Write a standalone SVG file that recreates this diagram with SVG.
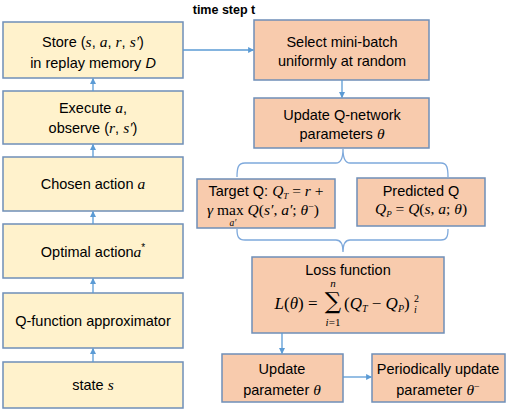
<svg xmlns="http://www.w3.org/2000/svg" width="506" height="410" viewBox="0 0 506 410">
<defs>
<marker id="ah" viewBox="0 0 10 10" refX="9" refY="5" markerWidth="6" markerHeight="6" orient="auto" markerUnits="userSpaceOnUse">
<path d="M0,0 L10,5 L0,10 z" fill="#5B9BD5"/>
</marker>
<style>
.lb{fill:#FFF2CC;stroke:#6F8FB8;stroke-width:1.5}
.rb{fill:#F8CBAD;stroke:#6F8FB8;stroke-width:1.5}
.t{font-family:"Liberation Sans",Arial,sans-serif;font-size:14.5px;fill:#000;text-anchor:middle}
.m{font-family:"Liberation Serif","Times New Roman",serif;font-style:italic;font-size:15.5px}
.mu{font-family:"Liberation Serif","Times New Roman",serif;font-style:normal;font-size:15.5px}
.c{stroke:#5B9BD5;stroke-width:1.3;fill:none}
.br{stroke:#7EA9DC;stroke-width:1.3;fill:none}
</style>
</defs>
<rect width="506" height="410" fill="#fff"/>
<text x="224" y="14" font-family="Liberation Sans,Arial,sans-serif" font-size="12.5" font-weight="bold" text-anchor="middle">time step t</text>

<g id="store">
<rect class="lb" x="3" y="22" width="180" height="56"/>
<text class="t" x="93" y="47">Store (<tspan class="m">s</tspan>, <tspan class="m">a</tspan>, <tspan class="m">r</tspan>, <tspan class="m">s′</tspan>)</text>
<text class="t" x="93" y="68">in replay memory <tspan font-style="italic">D</tspan></text>
</g>
<g id="execute">
<rect class="lb" x="3" y="91" width="180" height="53"/>
<text class="t" x="93" y="113">Execute <tspan class="m">a</tspan>,</text>
<text class="t" x="93" y="133">observe (<tspan class="m">r</tspan>, <tspan class="m">s′</tspan>)</text>
</g>
<g id="chosen">
<rect class="lb" x="3" y="157" width="180" height="54"/>
<text class="t" x="93" y="189">Chosen action <tspan class="m">a</tspan></text>
</g>
<g id="optimal">
<rect class="lb" x="3" y="224" width="180" height="54"/>
<text class="t" x="93" y="257">Optimal action<tspan class="m">a</tspan><tspan style="font-size:10px" dy="-6">*</tspan></text>
</g>
<g id="qfunc">
<rect class="lb" x="3" y="293" width="180" height="55"/>
<text class="t" x="93" y="326">Q-function approximator</text>
</g>
<g id="state">
<rect class="lb" x="3" y="362" width="180" height="46"/>
<text class="t" x="93" y="390">state <tspan class="m">s</tspan></text>
</g>

<g id="select">
<rect class="rb" x="254" y="20" width="175" height="60"/>
<text class="t" x="342" y="47">Select mini-batch</text>
<text class="t" x="342" y="66">uniformly at random</text>
</g>
<g id="updateq">
<rect class="rb" x="254" y="98" width="175" height="50"/>
<text class="t" x="342" y="120">Update Q-network</text>
<text class="t" x="342" y="139">parameters <tspan class="m">θ</tspan></text>
</g>
<g id="target">
<rect class="rb" x="197" y="179" width="138" height="49"/>
<text class="t" x="266" y="196">Target Q:  <tspan class="m">Q</tspan><tspan class="m" style="font-size:9px" dy="3">T</tspan><tspan class="mu" dy="-3"> = </tspan><tspan class="m">r</tspan><tspan class="mu"> +</tspan></text>
<text class="t" x="263" y="215"><tspan class="m">γ</tspan><tspan class="mu"> max </tspan><tspan class="m">Q</tspan><tspan class="mu">(</tspan><tspan class="m">s′</tspan><tspan class="mu">, </tspan><tspan class="m">a′</tspan><tspan class="mu">; </tspan><tspan class="m">θ</tspan><tspan class="mu" style="font-size:10px" dy="-5">−</tspan><tspan class="mu" dy="5">)</tspan></text>
<text x="233" y="225.5" style="font-family:'Liberation Serif',serif;font-style:italic;font-size:9.5px;text-anchor:middle">a′</text>
</g>
<g id="predicted">
<rect class="rb" x="357" y="178" width="128" height="48"/>
<text class="t" x="421" y="196">Predicted Q</text>
<text class="t" x="421" y="214"><tspan class="m">Q</tspan><tspan class="m" style="font-size:9px" dy="3">P</tspan><tspan class="mu" dy="-3"> =  </tspan><tspan class="m">Q</tspan><tspan class="mu">(</tspan><tspan class="m">s</tspan><tspan class="mu">, </tspan><tspan class="m">a</tspan><tspan class="mu">; </tspan><tspan class="m">θ</tspan><tspan class="mu">)</tspan></text>
</g>
<g id="loss">
<rect class="rb" x="252" y="257" width="192" height="76"/>
<text class="t" x="348" y="275">Loss function</text>
<text x="296" y="309" style="font-family:'Liberation Serif',serif;font-size:17px;text-anchor:middle"><tspan font-style="italic">L</tspan>(<tspan font-style="italic">θ</tspan>) =</text>
<text x="333" y="309" style="font-family:'DejaVu Serif',serif;font-size:23px;text-anchor:middle">∑</text>
<text x="333" y="287" style="font-family:'Liberation Serif',serif;font-style:italic;font-size:11px;text-anchor:middle">n</text>
<text x="333" y="326" style="font-family:'Liberation Serif',serif;font-size:11px;text-anchor:middle"><tspan font-style="italic">i</tspan>=1</text>
<text x="344" y="309" style="font-family:'Liberation Serif',serif;font-size:17px"><tspan>(</tspan><tspan font-style="italic">Q</tspan><tspan font-style="italic" style="font-size:10px" dy="3">T</tspan><tspan dy="-3"> − </tspan><tspan font-style="italic">Q</tspan><tspan font-style="italic" style="font-size:10px" dy="3">P</tspan><tspan dy="-3">)</tspan></text>
<text x="414" y="302" style="font-family:'Liberation Serif',serif;font-size:10px">2</text>
<text x="414" y="313" style="font-family:'Liberation Serif',serif;font-size:10px;font-style:italic">i</text>
</g>
<g id="updatep">
<rect class="rb" x="222" y="354" width="121" height="48"/>
<text class="t" x="282" y="374">Update</text>
<text class="t" x="282" y="395">parameter <tspan class="m">θ</tspan></text>
</g>
<g id="periodic">
<rect class="rb" x="372" y="354" width="133" height="48"/>
<text class="t" x="438" y="374">Periodically update</text>
<text class="t" x="438" y="395">parameter <tspan class="m">θ</tspan><tspan class="mu" style="font-size:10px" dy="-5">−</tspan></text>
</g>

<g id="connectors">
<line class="c" x1="93" y1="91" x2="93" y2="78.5" marker-end="url(#ah)"/>
<line class="c" x1="93" y1="157" x2="93" y2="144.5" marker-end="url(#ah)"/>
<line class="c" x1="93" y1="224" x2="93" y2="211.5" marker-end="url(#ah)"/>
<line class="c" x1="93" y1="293" x2="93" y2="278.5" marker-end="url(#ah)"/>
<line class="c" x1="93" y1="362" x2="93" y2="348.5" marker-end="url(#ah)"/>
<line class="c" x1="183" y1="50" x2="253.5" y2="50" marker-end="url(#ah)"/>
<line class="c" x1="342" y1="80" x2="342" y2="97.5" marker-end="url(#ah)"/>
<line class="c" x1="282" y1="333" x2="282" y2="353.5" marker-end="url(#ah)"/>
<line class="c" x1="343" y1="377" x2="371.5" y2="377" marker-end="url(#ah)"/>
<path class="br" d="M237,177 C237,168 238,163 245,163 L336,163 C341,163 343,158 343,149 C343,158 345,163 350,163 L441,163 C447,163 448,168 448,177"/>
<path class="br" d="M237,229 C237,236 238,240 245,240 L336,240 C341,240 343,244 343,252 C343,244 345,240 350,240 L441,240 C447,240 448,236 448,229"/>
</g>
</svg>
